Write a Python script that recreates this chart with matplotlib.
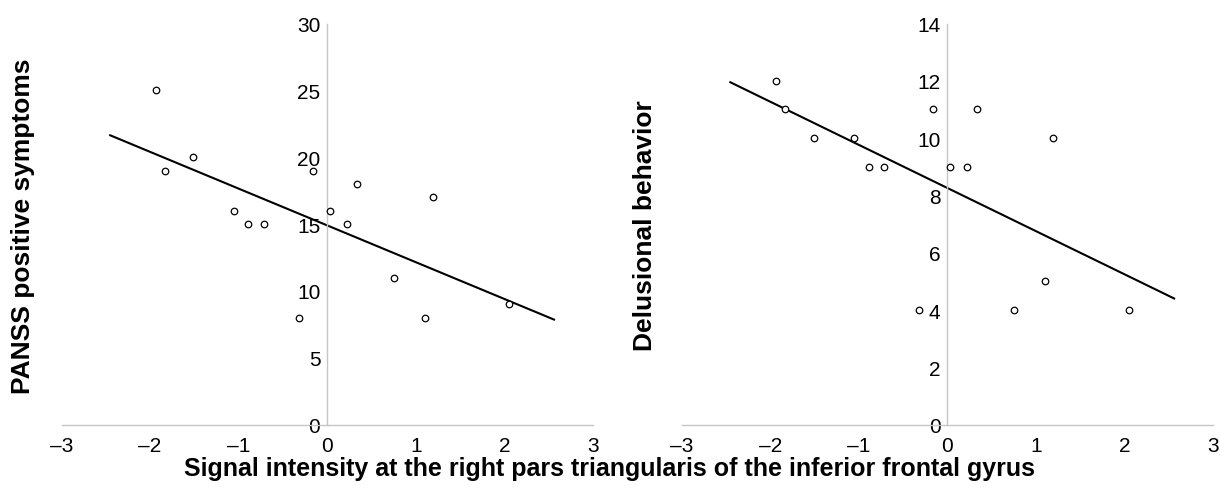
import numpy as np
import matplotlib
matplotlib.use("Agg")
import matplotlib.pyplot as plt

plt.rcParams['font.family'] = ['Liberation Sans', 'DejaVu Sans']

# Data
signal = [-1.93, -1.83, -1.51, -1.05, -0.89, -0.71, -0.32, -0.16, 0.03, 0.22, 0.34, 0.75, 1.10, 1.19, 2.05]
panss_pos = [25, 19, 20, 16, 15, 15, 8, 19, 16, 15, 18, 11, 8, 17, 9]
delusional = [12, 11, 10, 10, 9, 9, 4, 11, 9, 9, 11, 4, 5, 10, 4]
fit_range = [-2.45, 2.56]
x_ticks = [-3, -2, -1, 0, 1, 2, 3]
left_yticks = [0, 5, 10, 15, 20, 25, 30]
right_yticks = [0, 2, 4, 6, 8, 10, 12, 14]

W, H = 1220, 489
fig = plt.figure(figsize=(W / 100, H / 100), dpi=100)

def make_ax(left_px, ydata, yticks, ylabel, ylabel_x):
    ax = fig.add_axes([left_px / W, (H - 425.7) / H, 531.5 / W, (425.7 - 24.5) / H])
    ax.set_xlim(-3, 3)
    ax.set_ylim(yticks[0], yticks[-1])
    ax.spines['top'].set_visible(False)
    ax.spines['right'].set_visible(False)
    ax.spines['left'].set_position(('data', 0))
    for s in ('left', 'bottom'):
        ax.spines[s].set_color('#c6c6c6')
        ax.spines[s].set_linewidth(1.0)
    ax.set_xticks(x_ticks)
    ax.set_yticks(yticks)
    ax.set_xticklabels([("\u2013%d" % -t) if t < 0 else str(t) for t in x_ticks])
    ax.tick_params(axis='both', length=0, labelsize=15, colors='black')
    ax.tick_params(axis='x', pad=8)
    ax.tick_params(axis='y', pad=5)
    ax.scatter(signal, ydata, s=22, facecolors='white', edgecolors='black', linewidths=0.9, zorder=3, clip_on=False)
    k, b = np.polyfit(signal, ydata, 1)
    xs = np.array(fit_range)
    ax.plot(xs, k * xs + b, color='black', lw=1.5, zorder=2)
    fig.text(ylabel_x / W, 1 - 226 / H, ylabel, rotation=90, ha='center', va='center',
             fontsize=19, fontweight='bold')
    return ax

make_ax(61.5, panss_pos, left_yticks, 'PANSS positive symptoms', 23)
make_ax(681.6, delusional, right_yticks, 'Delusional behavior', 645)

fig.text(610 / W, 1 - 469 / H, 'Signal intensity at the right pars triangularis of the inferior frontal gyrus',
         ha='center', va='center', fontsize=18, fontweight='bold')

fig.savefig('out.png', dpi=100)
